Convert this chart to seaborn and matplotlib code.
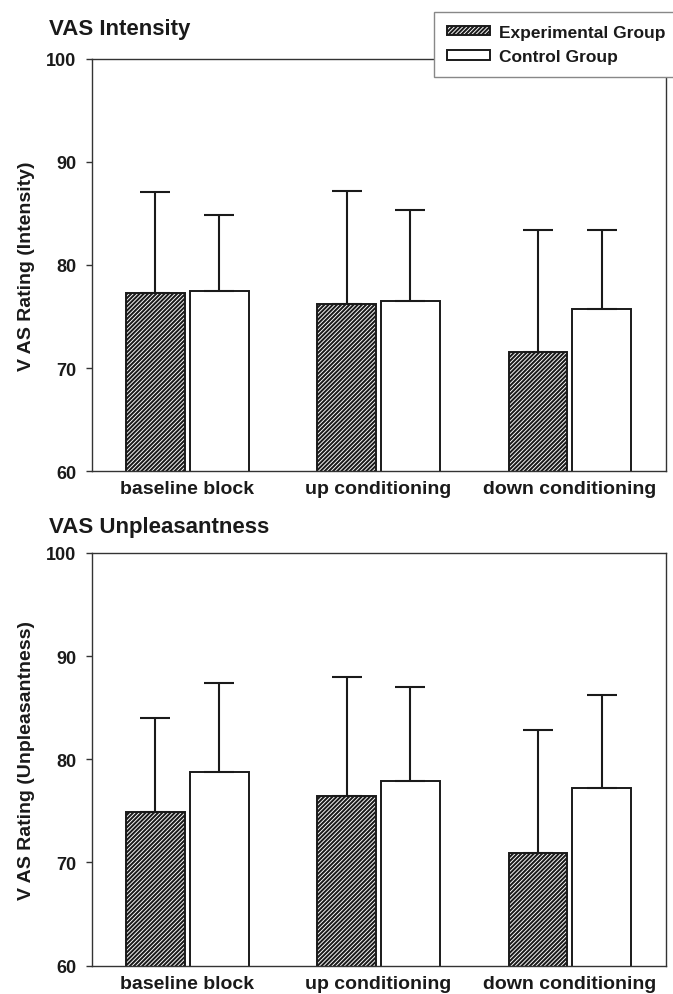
import numpy as np
import pandas as pd
import matplotlib
matplotlib.use('Agg')
import matplotlib.pyplot as plt
import seaborn as sns

conditions = ['baseline block', 'up conditioning', 'down conditioning']
groups = ['Experimental Group', 'Control Group']

intensity_exp_mean = [77.3, 76.2, 71.6]
intensity_exp_err = [9.8, 11.0, 11.8]
intensity_ctrl_mean = [77.5, 76.5, 75.7]
intensity_ctrl_err = [7.3, 8.8, 7.7]

unpl_exp_mean = [74.9, 76.4, 70.9]
unpl_exp_err = [9.1, 11.6, 11.9]
unpl_ctrl_mean = [78.8, 77.9, 77.2]
unpl_ctrl_err = [8.6, 9.1, 9.0]

yticks = [60, 70, 80, 90, 100]

sns.set_theme(style='ticks')
plt.rcParams['font.family'] = ['Liberation Sans', 'DejaVu Sans']
plt.rcParams['font.weight'] = 'bold'
plt.rcParams['axes.labelweight'] = 'bold'
plt.rcParams['hatch.linewidth'] = 1.45
plt.rcParams['text.color'] = '#1a1a1a'
plt.rcParams['xtick.color'] = '#333333'
plt.rcParams['ytick.color'] = '#333333'
plt.rcParams['xtick.labelcolor'] = '#1a1a1a'
plt.rcParams['ytick.labelcolor'] = '#1a1a1a'
plt.rcParams['axes.labelcolor'] = '#1a1a1a'

W, H = 673, 995
fig = plt.figure(figsize=(W / 100, H / 100), dpi=100)


def ax_rect(l, t, r, b):
    return [l / W, 1 - b / H, (r - l) / W, (b - t) / H]


ax1 = fig.add_axes(ax_rect(91.7, 59.5, 665.5, 472.3))
ax2 = fig.add_axes(ax_rect(91.7, 553.8, 665.5, 966.7))


def panel(ax, exp_mean, exp_err, ctrl_mean, ctrl_err, ylabel):
    df = pd.DataFrame({
        'condition': conditions * 2,
        'group': [groups[0]] * 3 + [groups[1]] * 3,
        'value': list(exp_mean) + list(ctrl_mean),
    })
    sns.barplot(data=df, x='condition', y='value', hue='group',
                order=conditions, hue_order=groups,
                palette=['white', 'white'], saturation=1,
                width=0.667, gap=0.08, errorbar=None,
                edgecolor='#1a1a1a', linewidth=1.4, legend=False, ax=ax)
    for bar in ax.containers[0]:
        bar.set_hatch('////////')
    bar_conts = list(ax.containers[:2])
    for cont, mean, err in zip(bar_conts, [exp_mean, ctrl_mean], [exp_err, ctrl_err]):
        xs = [p.get_x() + p.get_width() / 2 for p in cont]
        ax.errorbar(xs, mean, yerr=[np.zeros(len(err)), err], fmt='none',
                    ecolor='#1a1a1a', elinewidth=1.5, capsize=10.5, capthick=1.5)
    ax.set_ylim(60, 100)
    ax.set_xlim(-0.5, 2.5)
    ax.set_yticks(yticks)
    ax.set_xlabel('')
    ax.set_ylabel(ylabel, fontsize=14, fontweight='bold', labelpad=8)
    for s in ax.spines.values():
        s.set_visible(True)
        s.set_linewidth(1.0)
        s.set_color('#333333')
    ax.tick_params(axis='y', direction='out', length=4.3, width=1.0, pad=7, labelsize=13)
    ax.tick_params(axis='x', length=0, pad=6.5, labelsize=14)
    for lab in ax.get_xticklabels() + ax.get_yticklabels():
        lab.set_fontweight('bold')
    return bar_conts


conts = panel(ax1, intensity_exp_mean, intensity_exp_err, intensity_ctrl_mean,
              intensity_ctrl_err, 'V AS Rating (Intensity)')
panel(ax2, unpl_exp_mean, unpl_exp_err, unpl_ctrl_mean, unpl_ctrl_err,
      'V AS Rating (Unpleasantness)')

fig.text(49 / W, 1 - 35 / H, 'VAS Intensity', fontsize=16, fontweight='bold',
         ha='left', va='baseline')
fig.text(49 / W, 1 - 533 / H, 'VAS Unpleasantness', fontsize=16, fontweight='bold',
         ha='left', va='baseline')

leg = fig.legend(handles=conts, labels=groups, loc='upper left',
                 bbox_to_anchor=(434 / W, 1 - 13.3 / H), bbox_transform=fig.transFigure,
                 frameon=True, fancybox=False, edgecolor='#888888', framealpha=1,
                 prop={'size': 12.5, 'weight': 'bold'},
                 handlelength=2.48, handleheight=0.45, handletextpad=0.52,
                 labelspacing=0.55, borderpad=0.72, borderaxespad=0)
leg.get_frame().set_linewidth(1.0)

fig.savefig('out.png', dpi=100)
